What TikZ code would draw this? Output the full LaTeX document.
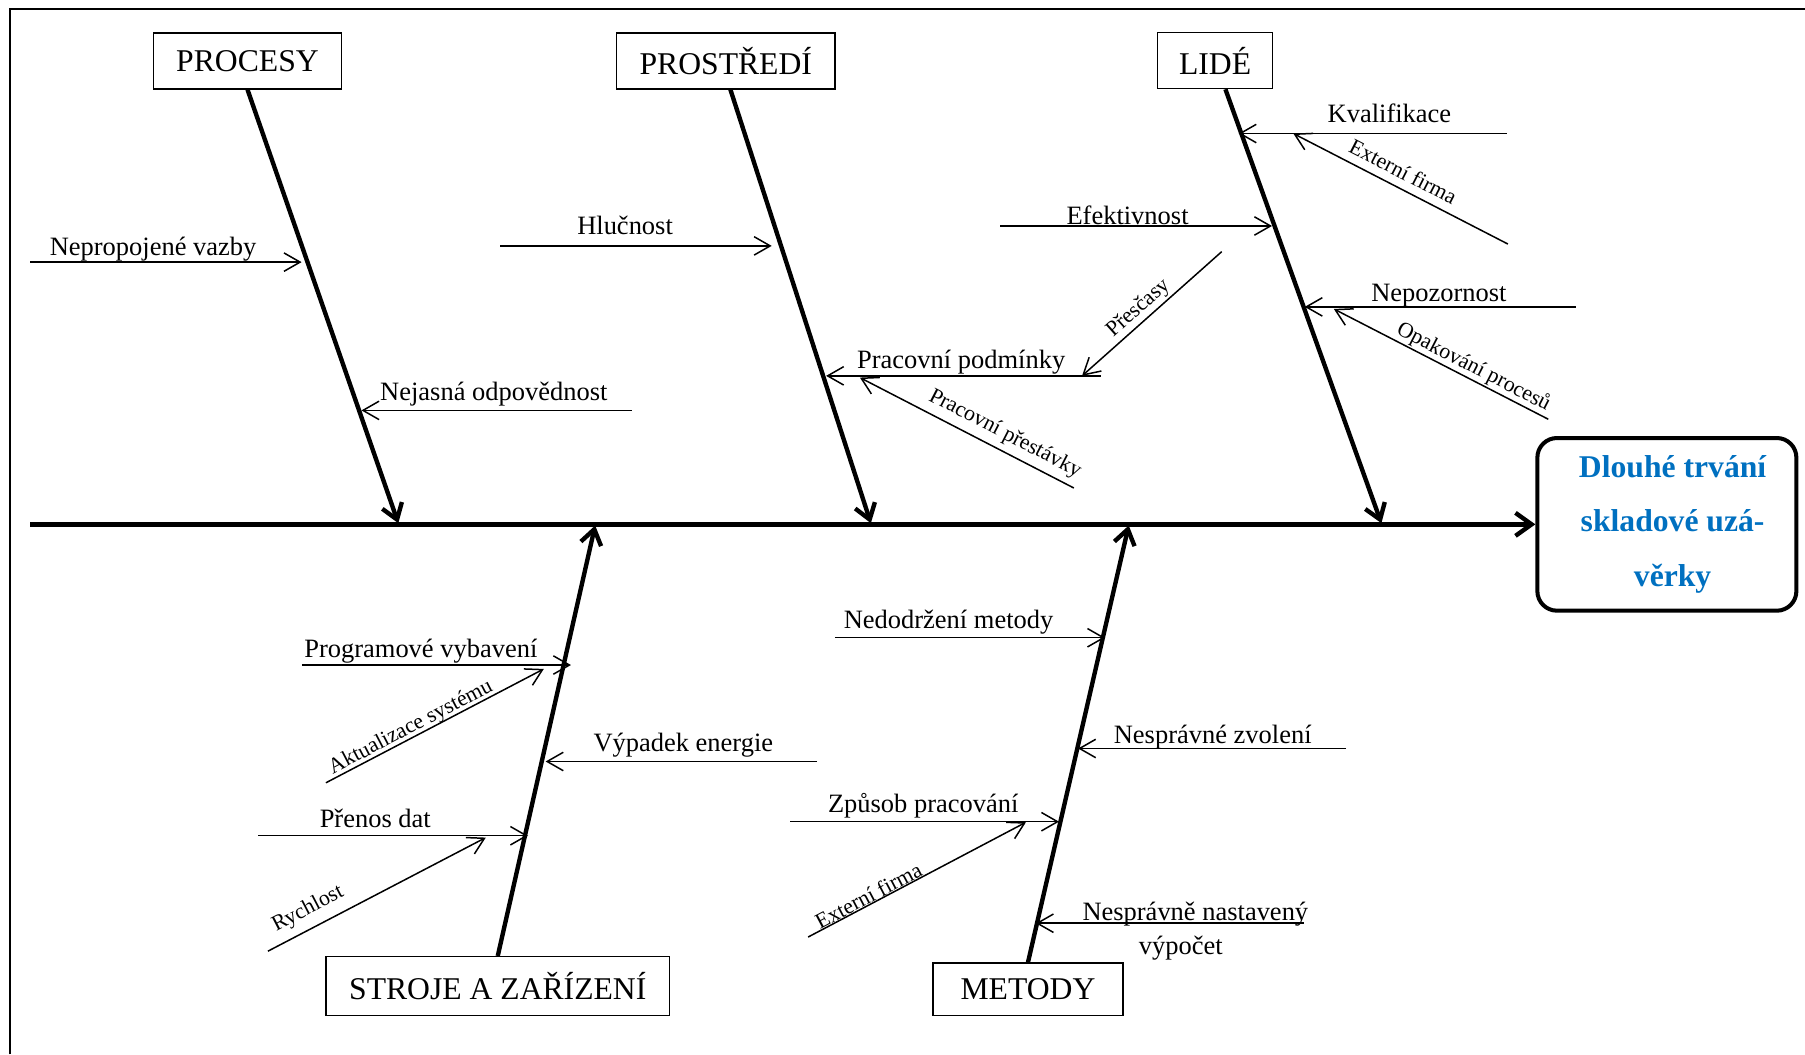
\documentclass[tikz,border=0pt]{standalone}
\usepackage{fontspec}
\setmainfont{Liberation Serif}
\usetikzlibrary{arrows.meta}
\definecolor{effblue}{RGB}{0,112,192}
\begin{document}
\begin{tikzpicture}[x=1pt,y=-1pt,
  bone/.style={line width=3.8pt, -{Straight Barb[length=13pt,width=18pt]}},
  twig/.style={line width=1.3pt, -{Straight Barb[length=14pt,width=16pt]}},
  title/.style={draw, line width=1.1pt, font=\fontsize{27.5}{33}\selectfont, inner sep=0pt, minimum height=48.5pt},
  lbl/.style={font=\fontsize{23}{27}\selectfont, anchor=base, inner sep=0pt},
  slbl/.style={font=\fontsize{19}{23}\selectfont, inner sep=0pt},
]
\useasboundingbox (0,0) rectangle (1568,916);
% frame
\draw[line width=1.7pt] (8.3,916) -- (8.3,7.8) -- (1568,7.8);

% category boxes
\node[title, minimum width=163.3pt] (procesy) at (215,53) {PROCESY};
\node[title, minimum width=189.6pt] (prostredi) at (630.5,53) {PROSTŘEDÍ};
\node[title, minimum width=99.5pt] (lide) at (1055.5,52.7) {LIDÉ};
\node[title, minimum width=298.6pt, minimum height=51pt] (stroje) at (432.4,856.5) {STROJE A ZAŘÍZENÍ};
\node[title, minimum width=165pt, minimum height=45.5pt] (metody) at (893,859.3) {METODY};

% effect
\node[draw, line width=3.5pt, rounded corners=17pt, minimum width=225pt, minimum height=150pt,
      align=center, text=effblue, font=\fontsize{27.5}{47.5}\selectfont\bfseries] (effect) at (1448,455.5)
      {\hspace*{10pt}Dlouhé trvání\\\hspace*{10pt}skladové uzá-\\\hspace*{10pt}věrky};

% spine
\coordinate (sp0) at (26.4,455.5);
\draw[line width=3.8pt, -{Straight Barb[length=14pt,width=20pt]}] (sp0) -- (effect.west);

% bones
\coordinate (tP) at (346,454.5);
\coordinate (tR) at (756.5,454.5);
\coordinate (tL) at (1200,454.5);
\coordinate (tS) at (517,456.5);
\coordinate (tM) at (980.5,456.5);
\draw[bone] (procesy.south) -- (tP);
\draw[bone] ([xshift=4pt]prostredi.south) -- (tR);
\draw[bone] ([xshift=9pt]lide.south) -- (tL);
\draw[bone] (stroje.north) -- (tS);
\draw[bone] (metody.north) -- (tM);

% PROCESY
\coordinate (a1) at (26.4,227.7); \coordinate (a1t) at (262,227.7);
\draw[twig] (a1) -- (a1t);
\node[lbl] (la1) at (133,221.7) {Nepropojené vazby};
\coordinate (a2) at (548.8,356.5); \coordinate (a2t) at (314,356.5);
\draw[twig] (a2) -- (a2t);
\node[lbl] (la2) at (429,347.5) {Nejasná odpovědnost};

% PROSTREDI
\coordinate (b1) at (434.4,213.6); \coordinate (b1t) at (670.4,213.6);
\draw[twig] (b1) -- (b1t);
\node[lbl] (lb1) at (543,203.7) {Hlučnost};
\coordinate (b2) at (956,326.5); \coordinate (b2t) at (717.6,326.5);
\draw[twig] (b2) -- (b2t);
\node[lbl] (lb2) at (835,320.5) {Pracovní podmínky};
\coordinate (b3) at (1061.3,218.6); \coordinate (b3t) at (940,326.5);
\draw[twig] (b3) -- (b3t);
\node[slbl, rotate=41.8] (lb3) at (989,268) {Přesčasy};
\coordinate (b4) at (932.8,423.9); \coordinate (b4t) at (747,328);
\draw[twig] (b4) -- (b4t);
\node[slbl, rotate=-27.3] (lb4) at (873,377) {Pracovní přestávky};

% LIDE
\coordinate (c1) at (1309,116); \coordinate (c1t) at (1076,116);
\draw[twig] (c1) -- (c1t);
\node[lbl] (lc1) at (1207,106.4) {Kvalifikace};
\coordinate (c2) at (1309.9,212); \coordinate (c2t) at (1123.5,116);
\draw[twig] (c2) -- (c2t);
\node[slbl, rotate=-27.2] (lc2) at (1219,149) {Externí firma};
\coordinate (c3) at (869,196.3); \coordinate (c3t) at (1105,196.3);
\draw[twig] (c3) -- (c3t);
\node[lbl] (lc3) at (979.5,195) {Efektivnost};
\coordinate (c4) at (1368.9,266.6); \coordinate (c4t) at (1133.4,266.6);
\draw[twig] (c4) -- (c4t);
\node[lbl] (lc4) at (1250,261.6) {Nepozornost};
\coordinate (c5) at (1345,364.2); \coordinate (c5t) at (1158.7,268.4);
\draw[twig] (c5) -- (c5t);
\node[slbl, rotate=-27.2] (lc5) at (1280,319) {Opakování procesů};

% STROJE
\coordinate (d1) at (262.2,577.7); \coordinate (d1t) at (496,577.7);
\draw[twig] (d1) -- (d1t);
\node[lbl] (ld1) at (365.6,571) {Programové vybavení};
\coordinate (d2) at (283.1,680); \coordinate (d2t) at (472.4,581.1);
\draw[twig] (d2) -- (d2t);
\node[slbl, rotate=27.6] (ld2) at (357,632) {Aktualizace systému};
\coordinate (d3) at (709.8,661.5); \coordinate (d3t) at (474,661.5);
\draw[twig] (d3) -- (d3t);
\node[lbl] (ld3) at (593.6,653) {Výpadek energie};
\coordinate (d4) at (224.2,726); \coordinate (d4t) at (458.7,726);
\draw[twig] (d4) -- (d4t);
\node[lbl] (ld4) at (326,719) {Přenos dat};
\coordinate (d5) at (232.7,826.3); \coordinate (d5t) at (422,727.6);
\draw[twig] (d5) -- (d5t);
\node[slbl, rotate=27.5] (ld5) at (267.7,789.7) {Rychlost};

% METODY
\coordinate (e1) at (725.2,554); \coordinate (e1t) at (960,554);
\draw[twig] (e1) -- (e1t);
\node[lbl] (le1) at (824,545.6) {Nedodržení metody};
\coordinate (e2) at (1169.3,650.2); \coordinate (e2t) at (936.5,650.2);
\draw[twig] (e2) -- (e2t);
\node[lbl] (le2) at (1053.5,645.5) {Nesprávné zvolení};
\coordinate (e3) at (686.3,713.8); \coordinate (e3t) at (920,713.8);
\draw[twig] (e3) -- (e3t);
\node[lbl] (le3) at (802,706) {Způsob pracování};
\coordinate (e4) at (702,814); \coordinate (e4t) at (891.2,714.3);
\draw[twig] (e4) -- (e4t);
\node[slbl, rotate=27.8] (le4) at (754.3,778) {Externí firma};
\coordinate (e5) at (1132.5,802); \coordinate (e5t) at (899.8,802);
\draw[twig] (e5) -- (e5t);
\node[lbl] (le5) at (1038.4,799.7) {Nesprávně nastavený};
\node[lbl] (le6) at (1025.7,828.8) {výpočet};
\end{tikzpicture}
\end{document}
